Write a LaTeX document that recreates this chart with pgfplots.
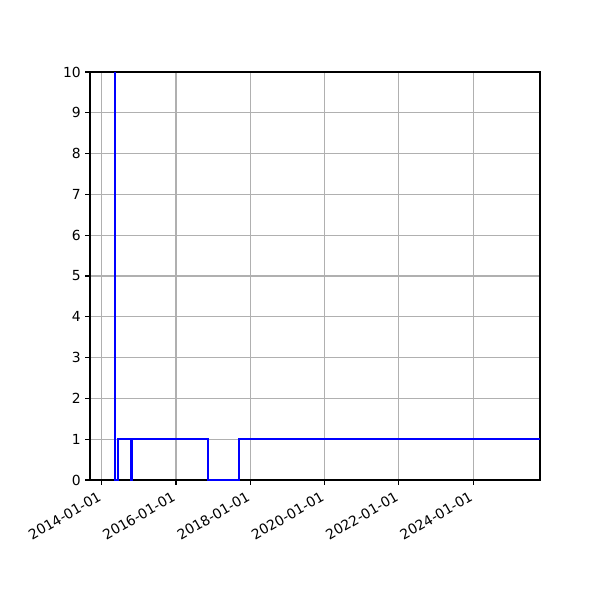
\documentclass[border=0pt]{standalone}
\usepackage{fontspec}
\setmainfont{DejaVu Sans}
\usepackage{pgfplots}
\pgfplotsset{compat=1.18}
\usepgfplotslibrary{dateplot}

\begin{document}
\begin{tikzpicture}
% 600x600 px page, 1px = 0.72pt; axis box 450x408 px at (90,72)
\path[use as bounding box] (-64.8pt,-86.4pt) rectangle (367.2pt,345.6pt);
\begin{axis}[
    at={(0,0)}, anchor=south west,
    scale only axis,
    width=324pt, height=293.76pt,
    date coordinates in=x,
    xmin=2013-09-08, xmax=2025-10-19,
    ymin=0, ymax=10,
    xtick={2014-01-01,2016-01-01,2018-01-01,2020-01-01,2022-01-01,2024-01-01},
    xticklabel={\year-\month-\day},
    xticklabel style={rotate=30, anchor=north east, inner sep=0pt, xshift=-5pt, yshift=-2pt},
    ytick={0,1,...,10},
    yticklabel style={inner sep=0pt, xshift=-3pt},
    tick pos=left,
    tick align=outside,
    major tick length=3.5pt,
    tick style={black, line width=0.8pt},
    axis line style={line width=0.8pt},
    grid=major,
    grid style={color=black!31, line width=0.8pt},
    /pgf/number format/assume math mode=true,
]
\addplot[const plot, color=blue, line width=1.5pt] coordinates {
    (2014-05-09,20) (2014-05-12,0) (2014-06-13,1) (2014-10-19,0)
    (2014-10-21,1) (2016-11-08,0) (2017-09-15,1) (2025-10-19,1)
};
\end{axis}
\end{tikzpicture}
\end{document}
